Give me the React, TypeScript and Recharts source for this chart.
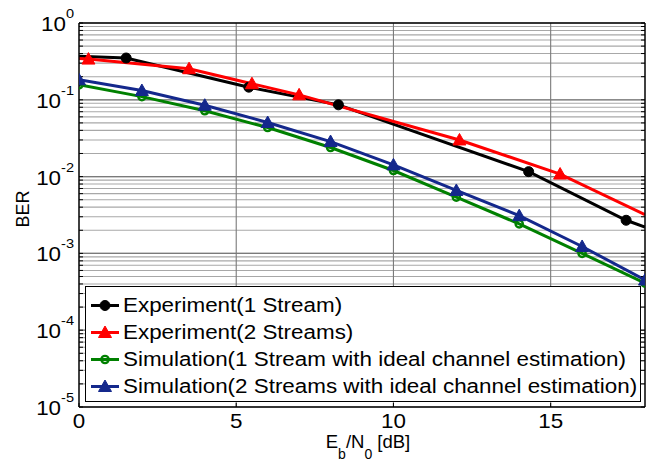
import React from 'react';
import { LineChart, Line, XAxis, YAxis, CartesianGrid, ReferenceLine } from 'recharts';

// measured points (Eb/N0 in dB, BER)
const exp1X = [0, 1.5, 5.4, 8.25, 14.3, 17.4, 18];
const exp1Ber = [0.37, 0.35, 0.146, 0.086, 0.0116, 0.0027, 0.0022];
const exp1Marked = [false, true, true, true, true, true, false];

const exp2X = [0, 0.3, 3.5, 5.5, 7.0, 12.1, 15.3, 18];
const exp2Ber = [0.345, 0.339, 0.254, 0.162, 0.116, 0.03, 0.0108, 0.0032];
const exp2Marked = [false, true, true, true, true, true, true, false];

const simX = [0, 2, 4, 6, 8, 10, 12, 14, 16, 18];
const sim1Ber = [0.157, 0.11, 0.072, 0.0435, 0.0239, 0.012, 0.0054, 0.00242, 0.001, 0.00041];
const sim2Ber = [0.182, 0.132, 0.085, 0.0506, 0.0286, 0.0142, 0.0066, 0.0031, 0.00123, 0.00045];

const xTicks = [0, 5, 10, 15];
const xGrid = [5, 10, 15];
const decades = [1e-5, 1e-4, 1e-3, 1e-2, 1e-1, 1];
const minorSteps = [2, 3, 4, 5, 6, 7, 8, 9];
const yTicks = decades.concat(decades.slice(0, -1).flatMap((d) => minorSteps.map((k) => k * d)));

const FONT = '"Liberation Sans", Arial, sans-serif';
const SX = 1.12; // the reference text is a bit wider than tall

const build = (xs: number[], ys: number[], marked?: boolean[]) =>
  xs.map((x, i) => ({ x, ber: ys[i], marked: marked ? marked[i] : true }));

const series = [
  { name: 'Experiment(1 Stream)', color: '#000000', marker: 'dot', data: build(exp1X, exp1Ber, exp1Marked) },
  { name: 'Experiment(2 Streams)', color: '#ff0000', marker: 'tri', data: build(exp2X, exp2Ber, exp2Marked) },
  { name: 'Simulation(1 Stream with ideal channel estimation)', color: '#008000', marker: 'ring', data: build(simX, sim1Ber) },
  { name: 'Simulation(2 Streams with ideal channel estimation)', color: '#14288c', marker: 'tri', data: build(simX, sim2Ber) },
];

function Marker({ kind, color, cx, cy }: { kind: string; color: string; cx: number; cy: number }) {
  if (kind === 'dot') return <circle cx={cx} cy={cy} r={5} fill={color} stroke={color} />;
  if (kind === 'ring') return <circle cx={cx} cy={cy} r={3.6} fill="none" stroke={color} strokeWidth={2.4} />;
  return (
    <polygon
      points={`${cx},${cy - 6.5} ${cx - 6.5},${cy + 5} ${cx + 6.5},${cy + 5}`}
      fill={color}
      stroke={color}
    />
  );
}

const isDecade = (v: number) => Math.abs(Math.log10(v) - Math.round(Math.log10(v))) < 1e-9;

function YTick(props: any) {
  const { x, y, payload } = props;
  if (!isDecade(payload.value)) return <g />;
  const exp = Math.round(Math.log10(payload.value));
  return (
    <text
      x={x}
      y={y + 8}
      textAnchor="end"
      fontFamily={FONT}
      style={{ fontSize: 20 }}
      fill="#000"
      transform={`translate(${x} 0) scale(${SX} 1) translate(${-x} 0)`}
    >
      <tspan>10</tspan>
      <tspan dy={-13} style={{ fontSize: 13 }}>{exp}</tspan>
    </text>
  );
}

function XTick(props: any) {
  const { x, y, payload } = props;
  return (
    <text
      x={x}
      y={y - 1}
      dy="0.71em"
      textAnchor="middle"
      fontFamily={FONT}
      style={{ fontSize: 20 }}
      fill="#000"
      transform={`translate(${x} 0) scale(${SX} 1) translate(${-x} 0)`}
    >
      {payload.value}
    </text>
  );
}

const Empty = () => <g />;

function Legend() {
  return (
    <div
      style={{
        position: 'absolute',
        left: 85,
        top: 286,
        width: 554,
        height: 114,
        border: '1px solid #000',
        background: '#fff',
        fontFamily: FONT,
        fontSize: 20,
      }}
    >
      {series.map((s, i) => (
        <div key={s.name} style={{ position: 'absolute', left: 0, top: 4.5 + i * 27.2, height: 27, display: 'flex', alignItems: 'center' }}>
          <svg width={36} height={27} style={{ display: 'block' }}>
            <line x1={5} x2={33} y1={13.5} y2={13.5} stroke={s.color} strokeWidth={3} />
            <Marker kind={s.marker} color={s.color} cx={19} cy={13.5} />
          </svg>
          <span style={{ marginLeft: 1, display: 'inline-block', transform: `scaleX(${SX})`, transformOrigin: 'left center', whiteSpace: 'nowrap', lineHeight: '27px' }}>
            {s.name}
          </span>
        </div>
      ))}
    </div>
  );
}

export default function App() {
  return (
    <div style={{ position: 'absolute', left: 0, top: 0, width: 654, height: 465, background: '#fff' }}>
      <LineChart width={654} height={465} margin={{ top: 0, right: 0, bottom: 0, left: 0 }}>
        <CartesianGrid vertical={false} stroke="#a8a8a8" strokeWidth={1.1} />
        <XAxis
          dataKey="x"
          type="number"
          domain={[0, 18]}
          ticks={xTicks}
          interval={0}
          allowDataOverflow
          height={58}
          tickSize={-4}
          tickMargin={12}
          axisLine={{ stroke: '#000', strokeWidth: 1.5 }}
          tickLine={{ stroke: '#000' }}
          tick={XTick}
          label={({ viewBox }: any) => {
            const cx = viewBox.x + viewBox.width / 2 + 6;
            return (
              <text x={cx} y={448} textAnchor="middle" fontFamily={FONT} style={{ fontSize: 18.5 }} fill="#000">
                <tspan>E</tspan>
                <tspan dy={11} style={{ fontSize: 14 }}>b</tspan>
                <tspan dy={-11}>/N</tspan>
                <tspan dy={11} style={{ fontSize: 14 }}>0</tspan>
                <tspan dy={-11}> [dB]</tspan>
              </text>
            );
          }}
        />
        <XAxis
          xAxisId="top"
          orientation="top"
          type="number"
          domain={[0, 18]}
          ticks={xGrid}
          interval={0}
          allowDataOverflow
          height={23}
          tickSize={-4}
          axisLine={{ stroke: '#000', strokeWidth: 1.5 }}
          tickLine={{ stroke: '#000' }}
          tick={Empty}
        />
        <YAxis
          type="number"
          scale="log"
          domain={[1e-5, 1]}
          ticks={yTicks}
          interval={0}
          allowDataOverflow
          width={79}
          tickSize={-4}
          tickMargin={9}
          axisLine={{ stroke: '#000', strokeWidth: 1.5 }}
          tickLine={{ stroke: '#000' }}
          tick={YTick}
          label={() => (
            <text
              x={23}
              y={209}
              textAnchor="middle"
              dominantBaseline="central"
              fontFamily={FONT}
              style={{ fontSize: 18 }}
              fill="#000"
              transform="rotate(-90 23 209)"
            >
              BER
            </text>
          )}
        />
        <YAxis
          yAxisId="right"
          orientation="right"
          type="number"
          scale="log"
          domain={[1e-5, 1]}
          ticks={yTicks}
          interval={0}
          allowDataOverflow
          width={9}
          tickSize={-4}
          axisLine={{ stroke: '#000', strokeWidth: 1.5 }}
          tickLine={{ stroke: '#000' }}
          tick={Empty}
        />
        {decades.slice(1, -1).map((d) => (
          <ReferenceLine key={`d${d}`} y={d} stroke="#7a7a7a" strokeWidth={1.3} />
        ))}
        {xGrid.map((v) => (
          <ReferenceLine key={`x${v}`} x={v} stroke="#7a7a7a" strokeWidth={1.1} />
        ))}
        {series.map((s) => (
          <Line
            key={s.name}
            data={s.data}
            dataKey="ber"
            name={s.name}
            type="linear"
            stroke={s.color}
            strokeWidth={3}
            isAnimationActive={false}
            dot={(p: any) =>
              p.payload.marked ? (
                <Marker key={`${s.name}-${p.index}`} kind={s.marker} color={s.color} cx={p.cx} cy={p.cy} />
              ) : (
                <g key={`${s.name}-${p.index}`} />
              )
            }
            activeDot={false}
          />
        ))}
      </LineChart>
      <Legend />
    </div>
  );
}
